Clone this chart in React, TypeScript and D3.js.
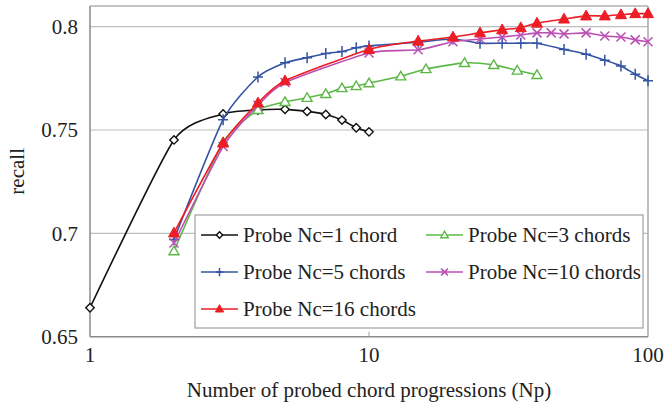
import React from "react";
import * as d3 from "d3";

const W = 664;
const H = 406;

const npNc1 = [1, 2, 3, 4, 5, 6, 7, 8, 9, 10];
const recallNc1 = [0.664, 0.7452, 0.7578, 0.7597, 0.76, 0.759, 0.7575, 0.7548, 0.7511, 0.7491];

const npNc3 = [2, 3, 4, 5, 6, 7, 8, 9, 10, 13, 16, 22, 28, 34, 40];
const recallNc3 = [0.6914, 0.744, 0.7597, 0.7636, 0.7656, 0.7675, 0.7703, 0.7713, 0.7727, 0.776, 0.7795, 0.7825, 0.7815, 0.7788, 0.7767];

const npNc5 = [2, 3, 4, 5, 6, 7, 8, 9, 10, 15, 20, 25, 30, 35, 40, 50, 60, 70, 80, 90, 100];
const recallNc5 = [0.697, 0.755, 0.7757, 0.7825, 0.785, 0.787, 0.788, 0.7898, 0.7907, 0.7925, 0.794, 0.792, 0.792, 0.792, 0.792, 0.789, 0.7867, 0.7838, 0.781, 0.777, 0.7738];

const npNc10 = [2, 3, 4, 5, 10, 15, 20, 25, 30, 35, 40, 45, 50, 60, 70, 80, 90, 100];
const recallNc10 = [0.6953, 0.742, 0.762, 0.773, 0.7873, 0.7888, 0.7927, 0.794, 0.795, 0.796, 0.797, 0.797, 0.7965, 0.797, 0.7955, 0.795, 0.7936, 0.7927];

const npNc16 = [2, 3, 4, 5, 10, 15, 20, 25, 30, 35, 40, 50, 60, 70, 80, 90, 100];
const recallNc16 = [0.7002, 0.7437, 0.7631, 0.7738, 0.789, 0.793, 0.795, 0.797, 0.7985, 0.7995, 0.8017, 0.8037, 0.8052, 0.8052, 0.8058, 0.8063, 0.8063];

const yTicks = [0.65, 0.7, 0.75, 0.8];
const xTicks = [1, 10, 100];

type Marker = "diamond" | "triangleOpen" | "plus" | "cross" | "triangleFilled";
interface Series {
  label: string;
  np: number[];
  recall: number[];
  color: string;
  marker: Marker;
}

const series: Series[] = [
  { label: "Probe Nc=1 chord", np: npNc1, recall: recallNc1, color: "#111111", marker: "diamond" },
  { label: "Probe Nc=3 chords", np: npNc3, recall: recallNc3, color: "#5cb846", marker: "triangleOpen" },
  { label: "Probe Nc=5 chords", np: npNc5, recall: recallNc5, color: "#3353a3", marker: "plus" },
  { label: "Probe Nc=10 chords", np: npNc10, recall: recallNc10, color: "#bb4fb4", marker: "cross" },
  { label: "Probe Nc=16 chords", np: npNc16, recall: recallNc16, color: "#ee1c24", marker: "triangleFilled" },
];

const FONT = "'Liberation Serif', 'Times New Roman', serif";

function MarkerShape({ m, x, y, color, k = 1 }: { m: Marker; x: number; y: number; color: string; k?: number }) {
  switch (m) {
    case "diamond": {
      const r = 4.2 * k;
      return (
        <path
          d={`M${x},${y - r}L${x + r},${y}L${x},${y + r}L${x - r},${y}Z`}
          fill="#fff"
          stroke={color}
          strokeWidth={1.4}
        />
      );
    }
    case "triangleOpen":
      return (
        <path
          d={`M${x},${y - 5 * k}L${x + 5 * k},${y + 3.6 * k}L${x - 5 * k},${y + 3.6 * k}Z`}
          fill="#fff"
          stroke={color}
          strokeWidth={1.4}
        />
      );
    case "triangleFilled":
      return (
        <path
          d={`M${x},${y - 5.8 * k}L${x + 5.5 * k},${y + 4 * k}L${x - 5.5 * k},${y + 4 * k}Z`}
          fill={color}
          stroke={color}
          strokeWidth={1}
        />
      );
    case "plus":
      return (
        <path
          d={`M${x - 5 * k},${y}L${x + 5 * k},${y}M${x},${y - 5.5 * k}L${x},${y + 5.5 * k}`}
          stroke={color}
          strokeWidth={1.5}
        />
      );
    case "cross":
      return (
        <path
          d={`M${x - 4.5 * k},${y - 4.5 * k}L${x + 4.5 * k},${y + 4.5 * k}M${x - 4.5 * k},${y + 4.5 * k}L${x + 4.5 * k},${y - 4.5 * k}`}
          stroke={color}
          strokeWidth={1.5}
        />
      );
  }
}

export default function App() {
  const left = 90;
  const right = 648;
  const top = 6;
  const bottom = 336.7;

  const x = d3.scaleLog().domain([1, 100]).range([left, right]);
  const y = d3.scaleLinear().domain([0.65, 0.81]).range([bottom, top]);

  const line = d3
    .line<[number, number]>()
    .x((d) => x(d[0]))
    .y((d) => y(d[1]))
    .curve(d3.curveCardinal.tension(0.4));

  const legendRows = [
    { s: series[0], lx: 201, ty: 235 },
    { s: series[1], lx: 426, ty: 235 },
    { s: series[2], lx: 201, ty: 272 },
    { s: series[3], lx: 426, ty: 272 },
    { s: series[4], lx: 201, ty: 309 },
  ];

  return (
    <div style={{ position: "absolute", left: 0, top: 0 }}>
      <svg width={W} height={H} style={{ display: "block", background: "#fff" }}>
        <rect x={0} y={0} width={W} height={H} fill="#fff" />
        {yTicks
          .filter((t) => t > 0.65)
          .map((t) => (
            <line key={t} x1={left} x2={right} y1={y(t)} y2={y(t)} stroke="#bdbdbd" strokeWidth={1.2} />
          ))}
        <line x1={left} x2={right} y1={top} y2={top} stroke="#b0b0b0" strokeWidth={1.5} />
        <line x1={right} x2={right} y1={top} y2={bottom} stroke="#a8a8a8" strokeWidth={1.5} />
        <line x1={left} x2={left} y1={top} y2={bottom} stroke="#8a8a8a" strokeWidth={1.5} />
        <line x1={left} x2={right} y1={bottom} y2={bottom} stroke="#8a8a8a" strokeWidth={1.5} />
        <line x1={x(10)} x2={x(10)} y1={bottom} y2={bottom - 5} stroke="#a0a0a0" strokeWidth={1} />

        {yTicks.map((t) => (
          <text
            key={t}
            x={78}
            y={y(t)}
            dy="0.35em"
            textAnchor="end"
            fontFamily={FONT}
            fontSize={21}
            fill="#222"
          >
            {d3.format("")(t)}
          </text>
        ))}
        {xTicks.map((t) => (
          <text
            key={t}
            x={x(t)}
            y={362}
            textAnchor="middle"
            fontFamily={FONT}
            fontSize={21}
            fill="#222"
          >
            {t}
          </text>
        ))}
        <text
          x={(left + right) / 2}
          y={397}
          textAnchor="middle"
          fontFamily={FONT}
          fontSize={21}
          fill="#222"
        >
          Number of probed chord progressions (Np)
        </text>
        <text
          transform={`translate(24,${(top + bottom) / 2}) rotate(-90)`}
          textAnchor="middle"
          fontFamily={FONT}
          fontSize={21}
          fill="#222"
        >
          recall
        </text>

        {series.map((s) => {
          const pts = s.np.map((n, i) => [n, s.recall[i]] as [number, number]);
          return (
            <g key={s.label}>
              <path d={line(pts) || ""} fill="none" stroke={s.color} strokeWidth={1.6} />
              {pts.map((p, i) => (
                <MarkerShape key={i} m={s.marker} x={x(p[0])} y={y(p[1])} color={s.color} />
              ))}
            </g>
          );
        })}

        <rect x={195} y={215} width={448} height={113} fill="#fff" stroke="#a0a0a0" strokeWidth={1.2} />
        {legendRows.map(({ s, lx, ty }) => (
          <g key={s.label}>
            <line x1={lx} x2={lx + 37} y1={ty} y2={ty} stroke={s.color} strokeWidth={1.6} />
            <MarkerShape m={s.marker} x={lx + 18.5} y={ty} color={s.color} k={0.75} />
            <text
              x={lx + 42}
              y={ty}
              dy="0.35em"
              fontFamily={FONT}
              fontSize={21}
              fill="#222"
            >
              {s.label}
            </text>
          </g>
        ))}
      </svg>
    </div>
  );
}
